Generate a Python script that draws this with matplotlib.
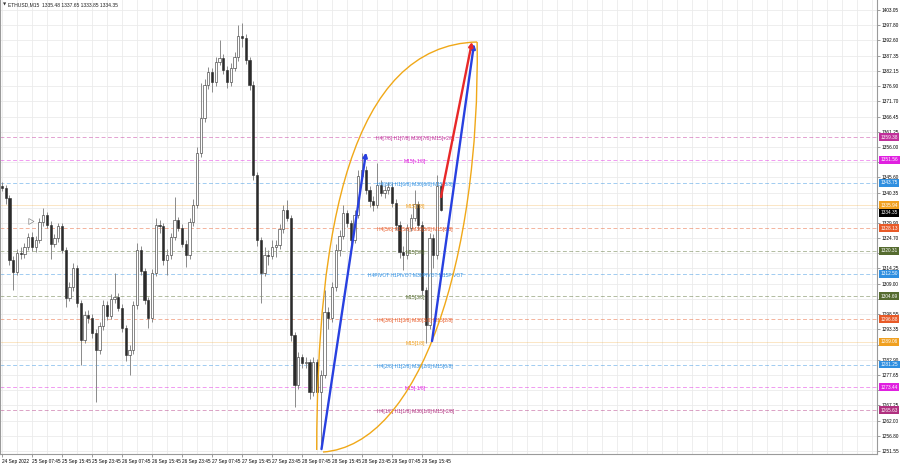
import matplotlib
matplotlib.use("Agg")
import matplotlib.pyplot as plt
from matplotlib.path import Path
from matplotlib.patches import PathPatch

plt.rcParams['font.family'] = ['Liberation Sans', 'DejaVu Sans']

# ---------------- data (H1 candles, x = hours since 24 Sep 23:45) ----------------
opens = [1342.5, 1341.9, 1338.5, 1317.2, 1313.0, 1319.6, 1319.2, 1321.6, 1325.1, 1321.6,
         1324.0, 1330.2, 1332.6, 1329.2, 1322.7, 1324.7, 1328.8, 1320.6, 1304.1, 1307.9,
         1314.4, 1302.4, 1289.7, 1298.3, 1297.2, 1292.1, 1286.2, 1294.5, 1301.7, 1297.9,
         1303.8, 1304.5, 1300.7, 1293.8, 1284.5, 1286.2, 1301.7, 1320.6, 1313.4, 1303.4,
         1297.2, 1312.7, 1329.2, 1328.8, 1317.2, 1318.9, 1325.1, 1330.9, 1328.2, 1322.7,
         1318.9, 1330.2, 1336.1, 1353.9, 1365.9, 1377.3, 1381.8, 1378.3, 1385.2, 1386.6,
         1382.4, 1378.3, 1383.1, 1386.9, 1394.1, 1393.4, 1385.9, 1377.3, 1346.4, 1324.0,
         1312.7, 1318.9, 1318.5, 1321.6, 1322.3, 1327.8, 1334.5, 1331.6, 1291.4, 1274.2,
         1283.8, 1281.8, 1282.1, 1271.8, 1282.1, 1271.8, 1277.7, 1299.3, 1297.2, 1307.9,
         1320.6, 1325.4, 1333.3, 1329.9, 1324.0, 1332.6, 1346.0, 1348.1, 1341.2, 1337.4,
         1336.1, 1342.9, 1340.2, 1341.2, 1342.2, 1336.7, 1329.2, 1319.9, 1318.9, 1328.2,
         1331.6, 1336.4, 1329.2, 1306.9, 1294.8, 1324.7, 1318.9, 1342.6]
closes = [1341.9, 1338.5, 1317.2, 1313.0, 1319.6, 1319.2, 1321.6, 1325.1, 1321.6, 1324.0,
          1330.2, 1332.6, 1329.2, 1322.7, 1324.7, 1328.8, 1320.6, 1304.1, 1307.9, 1314.4,
          1302.4, 1289.7, 1298.3, 1297.2, 1292.1, 1286.2, 1294.5, 1301.7, 1297.9, 1303.8,
          1304.5, 1300.7, 1293.8, 1284.5, 1286.2, 1301.7, 1320.6, 1313.4, 1303.4, 1297.2,
          1312.7, 1329.2, 1328.8, 1317.2, 1318.9, 1325.1, 1330.9, 1328.2, 1322.7, 1318.9,
          1330.2, 1336.1, 1353.9, 1365.9, 1377.3, 1381.8, 1378.3, 1385.2, 1386.6, 1382.4,
          1378.3, 1383.1, 1386.9, 1394.1, 1393.4, 1385.9, 1377.3, 1346.4, 1324.0, 1312.7,
          1318.9, 1318.5, 1321.6, 1322.3, 1327.8, 1334.5, 1331.6, 1291.4, 1274.2, 1283.8,
          1281.8, 1282.1, 1271.8, 1282.1, 1271.8, 1277.7, 1299.3, 1297.2, 1307.9, 1320.6,
          1325.4, 1333.3, 1329.9, 1324.0, 1332.6, 1346.0, 1348.1, 1341.2, 1337.4, 1336.1,
          1342.9, 1340.2, 1341.2, 1342.2, 1336.7, 1329.2, 1319.9, 1318.9, 1328.2, 1331.6,
          1336.4, 1329.2, 1306.9, 1294.8, 1324.7, 1318.9, 1342.6, 1334.35]
highs = [1344.0, 1343.0, 1339.5, 1318.5, 1321.0, 1321.5, 1323.0, 1326.5, 1326.8, 1325.5,
         1331.5, 1335.0, 1333.8, 1330.5, 1326.0, 1330.0, 1330.0, 1321.5, 1309.5, 1316.0,
         1315.5, 1303.5, 1299.8, 1300.0, 1298.5, 1293.5, 1296.0, 1303.5, 1303.0, 1305.5,
         1312.7, 1306.0, 1302.0, 1295.0, 1288.0, 1303.0, 1323.0, 1322.0, 1314.5, 1304.5,
         1314.0, 1331.5, 1331.0, 1330.0, 1321.0, 1326.5, 1338.8, 1332.0, 1329.5, 1324.0,
         1331.5, 1338.0, 1356.0, 1378.0, 1379.5, 1383.5, 1383.0, 1386.8, 1392.7, 1388.0,
         1383.8, 1385.0, 1388.5, 1397.9, 1398.6, 1394.8, 1387.0, 1378.5, 1347.5, 1325.0,
         1321.5, 1320.5, 1324.0, 1324.0, 1329.5, 1336.0, 1337.8, 1332.5, 1292.5, 1285.5,
         1285.0, 1284.0, 1283.0, 1284.0, 1283.0, 1279.5, 1307.0, 1301.0, 1309.5, 1322.5,
         1327.5, 1336.0, 1334.5, 1331.0, 1334.5, 1348.0, 1353.9, 1349.5, 1342.5, 1339.0,
         1350.5, 1344.5, 1343.0, 1344.0, 1343.5, 1338.0, 1330.5, 1322.0, 1329.5, 1333.0,
         1341.2, 1337.5, 1330.5, 1308.0, 1326.5, 1326.0, 1346.4, 1343.5]
lows = [1340.8, 1336.5, 1315.5, 1306.9, 1312.0, 1317.5, 1318.0, 1320.5, 1320.2, 1320.0,
        1323.0, 1329.0, 1328.0, 1317.5, 1321.5, 1323.5, 1319.5, 1301.0, 1303.0, 1306.5,
        1301.0, 1281.1, 1288.5, 1295.5, 1290.5, 1268.4, 1285.0, 1293.0, 1296.5, 1296.8,
        1302.5, 1299.5, 1292.5, 1282.5, 1277.7, 1285.0, 1300.5, 1312.0, 1302.0, 1293.7,
        1296.0, 1311.5, 1326.5, 1315.5, 1312.0, 1317.5, 1324.0, 1327.0, 1321.5, 1314.7,
        1317.5, 1329.0, 1335.0, 1352.5, 1364.5, 1376.0, 1374.9, 1377.0, 1384.0, 1381.0,
        1376.3, 1377.0, 1382.0, 1385.5, 1390.5, 1384.5, 1375.5, 1344.5, 1322.0, 1302.4,
        1311.5, 1315.5, 1317.5, 1318.3, 1321.0, 1326.5, 1330.5, 1289.5, 1266.7, 1273.0,
        1280.0, 1280.0, 1269.5, 1270.5, 1270.0, 1252.9, 1276.5, 1293.5, 1296.0, 1306.5,
        1318.5, 1324.5, 1328.5, 1322.5, 1323.0, 1331.5, 1344.5, 1340.0, 1335.5, 1334.0,
        1335.0, 1339.0, 1338.5, 1340.0, 1335.5, 1327.5, 1318.0, 1313.7, 1317.5, 1327.0,
        1330.5, 1327.5, 1305.0, 1288.7, 1293.5, 1314.5, 1317.5, 1333.85]

# Murrey math levels
level_prices = [1359.38, 1351.56, 1343.75, 1335.94, 1328.13, 1320.31, 1312.50,
                1304.69, 1296.88, 1289.06, 1281.25, 1273.44, 1265.63]
level_labels = ["H4[7/8] H1[7/8] M30[7/8] M15[+2/8]", "M15[+1/8]",
                "H4[6/8] H1[6/8] M30[6/8] M15[8/8]", "M15[7/8]",
                "H4[5/8] H1[5/8] M30[5/8] M15[6/8]", "M15[5/8]",
                "H4PIVOT H1PIVOT M30PIVOT M15PIVOT", "M15[3/8]",
                "H4[3/8] H1[3/8] M30[3/8] M15[2/8]", "M15[1/8]",
                "H4[2/8] H1[2/8] M30[2/8] M15[0/8]", "M15[-1/8]",
                "H4[1/8] H1[1/8] M30[1/8] M15[-2/8]"]
level_colors = ['#c0309a', '#e020e0', '#2f8fe0', '#f0a020', '#e85a28', '#556b2f', '#2f8fe0',
                '#556b2f', '#e85a28', '#f0a020', '#2f8fe0', '#e020e0', '#b0307f']
level_styles = ['--', '--', '--', '-', '--', '--', '--', '--', '--', '-', '--', '--', '--']

last_price = 1334.35

# price axis ticks
ytick_vals = [1403.05, 1397.80, 1392.60, 1387.35, 1382.15, 1376.90, 1371.70, 1366.45,
              1361.25, 1356.00, 1350.85, 1345.60, 1340.35, 1335.10, 1329.90, 1324.70,
              1319.50, 1314.25, 1309.00, 1303.75, 1298.55, 1293.35, 1288.10, 1282.90,
              1277.65, 1272.45, 1267.25, 1262.00, 1256.80, 1251.55]
ytick_hidden = [1350.85, 1335.10, 1319.50, 1303.75, 1288.10, 1272.45]

# time axis labels (hours)
xtick_pos = [0, 8, 16, 24, 32, 40, 48, 56, 64, 72, 80, 88, 96, 104, 112]
xtick_labels = ["24 Sep 2022", "25 Sep 07:45", "25 Sep 15:45", "25 Sep 23:45",
                "26 Sep 07:45", "26 Sep 15:45", "26 Sep 23:45", "27 Sep 07:45",
                "27 Sep 15:45", "27 Sep 23:45", "28 Sep 07:45", "28 Sep 15:45",
                "28 Sep 23:45", "29 Sep 07:45", "29 Sep 15:45"]

# drawn objects (hours, price)
blue1 = [(85.2, 1252.2), (97.07, 1354.1)]
blue2 = [(114.67, 1289.3), (125.87, 1391.4)]
red1 = [(117.07, 1338.8), (125.33, 1392.1)]
leaf_left = [(83.92, 1251.9), (84.0, 1327.5), (92.8, 1391.0), (126.7, 1392.06)]
leaf_right = [(85.6, 1251.2), (111.5, 1253.6), (127.5, 1317.2), (126.7, 1392.06)]
cursor_pos = (7.5, 1330.5)

header = "ETHUSD,M15  1335.48 1337.65 1333.85 1334.35"

# ---------------- figure ----------------
fig = plt.figure(figsize=(9, 4.68), dpi=100)
ax = fig.add_axes([0.0, 1 - 454 / 468, 877 / 900, 454 / 468])
ax.set_facecolor('white')
X_MIN, X_MAX = -0.533, 233.33
Y_MIN, Y_MAX = 1250.52, 1406.49
ax.set_xlim(X_MIN, X_MAX)
ax.set_ylim(Y_MIN, Y_MAX)

# grid
for h in range(0, 234, 4):
    ax.axvline(h, color='#ebebeb', lw=0.6, zorder=0)
for v in ytick_vals:
    ax.axhline(v, color='#ebebeb', lw=0.6, zorder=0)

# level lines
for p, c, ls in zip(level_prices, level_colors, level_styles):
    if ls == '-':
        ax.axhline(p, color=c, lw=0.6, alpha=0.3, zorder=1)
    else:
        ax.axhline(p, color=c, lw=0.7, alpha=0.45, ls=(0, (4, 2.5)), zorder=1)

# candles
for k in range(len(closes)):
    ax.vlines(k, lows[k], highs[k], color='#8a8a8a', lw=0.7, zorder=2)
for k in range(len(closes)):
    o, c = opens[k], closes[k]
    bottom = min(o, c)
    height = max(abs(c - o), 0.3)
    fc = '#2b2b2b' if c < o else '#ffffff'
    ax.bar(k, height, bottom=bottom, width=0.55, color=fc, edgecolor='#2b2b2b',
           linewidth=0.4, zorder=3)

# level labels
for p, lab, c in zip(level_prices, level_labels, level_colors):
    ax.text(110.2, p - 0.5, lab, color=c, fontsize=3.6, ha='center', va='center', zorder=5)

# leaf curve
for pts in (leaf_left, leaf_right):
    path = Path(pts, [Path.MOVETO, Path.CURVE4, Path.CURVE4, Path.CURVE4])
    ax.add_patch(PathPatch(path, fc='none', ec='#f0a818', lw=1.0, zorder=6))

# trend arrows
def arrow(seg, col):
    (x0, y0), (x1, y1) = seg
    ax.annotate('', xy=(x1, y1), xytext=(x0, y0),
                arrowprops=dict(arrowstyle='-|>', color=col, lw=1.7, mutation_scale=6,
                                shrinkA=0, shrinkB=0), zorder=7)

arrow(blue1, '#2840e0')
arrow(blue2, '#2840e0')
arrow(red1, '#e82828')

# mouse cursor mark
ax.plot([cursor_pos[0]], [cursor_pos[1]], marker=(3, 0, 30), markersize=5,
        markerfacecolor='white', markeredgecolor='#888888', markeredgewidth=0.5, zorder=8)

# axes styling
for s in ax.spines.values():
    s.set_color('#9a9a9a')
    s.set_linewidth(0.8)
ax.spines['top'].set_visible(False)
ax.yaxis.tick_right()
ax.set_yticks(ytick_vals)
ax.set_yticklabels(['' if v in ytick_hidden else f"{v:.2f}" for v in ytick_vals])
ax.tick_params(axis='y', labelsize=3.4, length=2, width=0.5, color='#777777', pad=1.5)
ax.set_xticks(xtick_pos)
ax.set_xticklabels(xtick_labels)
ax.tick_params(axis='x', labelsize=3.4, length=2, width=0.5, color='#777777', pad=1.5)
for t in ax.get_xticklabels():
    t.set_ha('left')

# right-side colored price boxes
ytr = ax.get_yaxis_transform()
for p, c in zip(level_prices, level_colors):
    ax.text(1.004, p, f"{p:.2f}", transform=ytr, fontsize=3.4, color='white',
            ha='left', va='center', clip_on=False,
            bbox=dict(boxstyle='square,pad=0.3', fc=c, ec=c, lw=0))
ax.text(1.004, last_price - 0.9, f"{last_price:.2f}", transform=ytr, fontsize=3.4,
        color='white', ha='left', va='center', clip_on=False,
        bbox=dict(boxstyle='square,pad=0.3', fc='#000000', ec='#000000', lw=0))

# header
fig.text(3 / 900, 1 - 5 / 468, "\u25BC", fontsize=3.0, color='#333333', va='center',
         family=['DejaVu Sans'])
fig.text(8 / 900, 1 - 5 / 468, header, fontsize=3.6, color='#222222', va='center')

fig.savefig('out.png', dpi=100, facecolor='white')
